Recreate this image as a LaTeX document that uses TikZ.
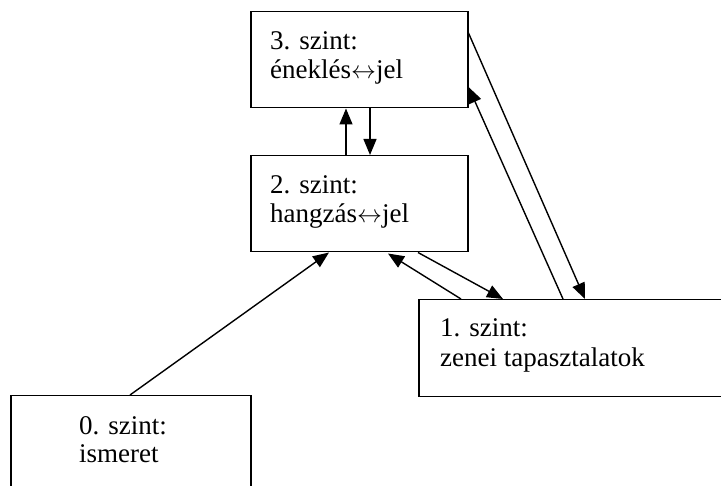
\documentclass[tikz,border=0pt]{standalone}
\usepackage{fontspec}
\setmainfont{Liberation Serif}
\usetikzlibrary{arrows.meta}
\newcommand{\lrarr}{\ensuremath{\leftrightarrow}}
\begin{document}
\begin{tikzpicture}[x=1pt,y=-1pt,
  box/.style={draw, line width=1.5pt, rectangle, inner sep=0pt, anchor=north west},
  lbl/.style={anchor=base west, inner sep=0pt, font=\fontsize{27}{30}\selectfont},
  arr/.style={line width=1.4pt, -{Triangle[length=16pt,width=13pt]}}]
\useasboundingbox (0,0) rectangle (721,486);
\clip (0,0) rectangle (721,486);
\fill[white] (0,0) rectangle (721,486);
% boxes
\node[box, minimum width=217pt, minimum height=96pt] (b3) at (250,11) {};
\node[box, minimum width=217pt, minimum height=96pt] (b2) at (250,155) {};
\node[box, minimum width=322pt, minimum height=97pt] (b1) at (418,299) {};
\node[box, minimum width=240pt, minimum height=110pt] (b0) at (10,395) {};
% labels
\node[lbl] (t3a) at (270,50) {3. szint:};
\node[lbl] (t3b) at (270,79) {éneklés\lrarr jel};
\node[lbl] (t2a) at (270,194) {2. szint:};
\node[lbl] (t2b) at (270,223) {hangzás\lrarr jel};
\node[lbl] (t1a) at (440,337) {1. szint:};
\node[lbl] (t1b) at (440,367) {zenei tapasztalatok};
\node[lbl] (t0a) at (79,435) {0. szint:};
\node[lbl] (t0b) at (79,463) {ismeret};
% connectors
\draw[arr] ([xshift=96pt]b2.north west) -- ([xshift=96pt]b3.south west);
\draw[arr] ([xshift=120pt]b3.south west) -- ([xshift=120pt]b2.north west);
\draw[arr] ([xshift=120pt]b0.north west) -- ([xshift=79pt]b2.south west);
\draw[arr] ([xshift=168pt]b2.south west) -- ([xshift=85pt]b1.north west);
\draw[arr] ([xshift=43pt]b1.north west) -- ([xshift=138pt,yshift=-1pt]b2.south west);
\draw[arr] ([yshift=-22pt]b3.north east) -- ([xshift=167pt]b1.north west);
\draw[arr] ([xshift=145pt]b1.north west) -- ([yshift=-76pt]b3.north east);
\end{tikzpicture}
\end{document}
